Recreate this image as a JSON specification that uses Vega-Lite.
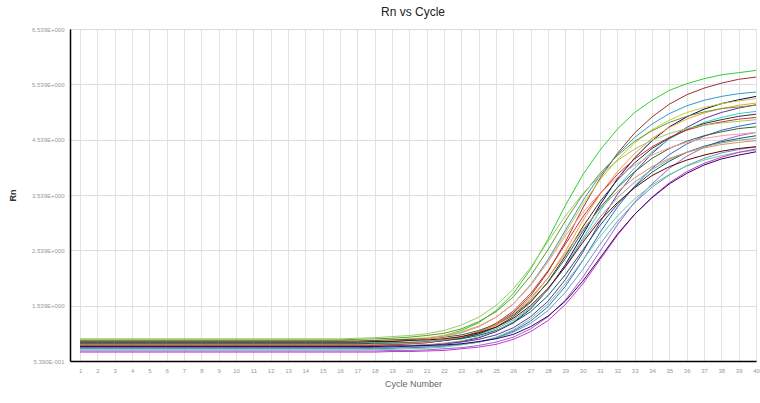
{
"$schema": "https://vega.github.io/schema/vega-lite/v6.json",
"width": 686, "height": 332,
"autosize": {"type": "none"},
"padding": {"left": 70, "top": 29, "right": 4, "bottom": 42},
"background": "white",
"title": {"text": "Rn vs Cycle", "fontSize": 12, "font": "Liberation Sans", "fontWeight": "normal", "color": "#222222", "offset": 7, "anchor": "middle"},
"config": {"view": {"stroke": "#c8c8c8", "strokeWidth": 1}, "font": "Liberation Sans"},
"data": {"values": [
{"cycle":1,"w1":0.85,"w2":0.82,"w3":0.88,"w4":0.78,"w5":0.90,"w6":0.84,"w7":0.80,"w8":0.92,"w9":0.86,"w10":0.83,"w11":0.81,"w12":0.76,"w13":0.94,"w14":0.90,"w15":0.72,"w16":0.87,"w17":0.85,"w18":0.79,"w19":0.83,"w20":0.77,"w21":0.88,"w22":0.74,"w23":0.70,"w24":0.80},
{"cycle":2,"w1":0.85,"w2":0.82,"w3":0.88,"w4":0.78,"w5":0.90,"w6":0.84,"w7":0.80,"w8":0.92,"w9":0.86,"w10":0.83,"w11":0.81,"w12":0.76,"w13":0.94,"w14":0.90,"w15":0.72,"w16":0.87,"w17":0.85,"w18":0.79,"w19":0.83,"w20":0.77,"w21":0.88,"w22":0.74,"w23":0.70,"w24":0.80},
{"cycle":3,"w1":0.85,"w2":0.82,"w3":0.88,"w4":0.78,"w5":0.90,"w6":0.84,"w7":0.80,"w8":0.92,"w9":0.86,"w10":0.83,"w11":0.81,"w12":0.76,"w13":0.94,"w14":0.90,"w15":0.72,"w16":0.87,"w17":0.85,"w18":0.79,"w19":0.83,"w20":0.77,"w21":0.88,"w22":0.74,"w23":0.70,"w24":0.80},
{"cycle":4,"w1":0.85,"w2":0.82,"w3":0.88,"w4":0.78,"w5":0.90,"w6":0.84,"w7":0.80,"w8":0.92,"w9":0.86,"w10":0.83,"w11":0.81,"w12":0.76,"w13":0.94,"w14":0.90,"w15":0.72,"w16":0.87,"w17":0.85,"w18":0.79,"w19":0.83,"w20":0.77,"w21":0.88,"w22":0.74,"w23":0.70,"w24":0.80},
{"cycle":5,"w1":0.85,"w2":0.82,"w3":0.88,"w4":0.78,"w5":0.90,"w6":0.84,"w7":0.80,"w8":0.92,"w9":0.86,"w10":0.83,"w11":0.81,"w12":0.76,"w13":0.94,"w14":0.90,"w15":0.72,"w16":0.87,"w17":0.85,"w18":0.79,"w19":0.83,"w20":0.77,"w21":0.88,"w22":0.74,"w23":0.70,"w24":0.80},
{"cycle":6,"w1":0.85,"w2":0.82,"w3":0.88,"w4":0.78,"w5":0.90,"w6":0.84,"w7":0.80,"w8":0.92,"w9":0.86,"w10":0.83,"w11":0.81,"w12":0.76,"w13":0.94,"w14":0.90,"w15":0.72,"w16":0.87,"w17":0.85,"w18":0.79,"w19":0.83,"w20":0.77,"w21":0.88,"w22":0.74,"w23":0.70,"w24":0.80},
{"cycle":7,"w1":0.85,"w2":0.82,"w3":0.88,"w4":0.78,"w5":0.90,"w6":0.84,"w7":0.80,"w8":0.92,"w9":0.86,"w10":0.83,"w11":0.81,"w12":0.76,"w13":0.94,"w14":0.90,"w15":0.72,"w16":0.87,"w17":0.85,"w18":0.79,"w19":0.83,"w20":0.77,"w21":0.88,"w22":0.74,"w23":0.70,"w24":0.80},
{"cycle":8,"w1":0.85,"w2":0.82,"w3":0.88,"w4":0.78,"w5":0.90,"w6":0.84,"w7":0.80,"w8":0.92,"w9":0.86,"w10":0.83,"w11":0.81,"w12":0.76,"w13":0.94,"w14":0.90,"w15":0.72,"w16":0.87,"w17":0.85,"w18":0.79,"w19":0.83,"w20":0.77,"w21":0.88,"w22":0.74,"w23":0.70,"w24":0.80},
{"cycle":9,"w1":0.85,"w2":0.82,"w3":0.88,"w4":0.78,"w5":0.90,"w6":0.84,"w7":0.80,"w8":0.92,"w9":0.86,"w10":0.83,"w11":0.81,"w12":0.76,"w13":0.94,"w14":0.90,"w15":0.72,"w16":0.87,"w17":0.85,"w18":0.79,"w19":0.83,"w20":0.77,"w21":0.88,"w22":0.74,"w23":0.70,"w24":0.80},
{"cycle":10,"w1":0.85,"w2":0.82,"w3":0.88,"w4":0.78,"w5":0.90,"w6":0.84,"w7":0.80,"w8":0.92,"w9":0.86,"w10":0.83,"w11":0.81,"w12":0.76,"w13":0.94,"w14":0.90,"w15":0.72,"w16":0.87,"w17":0.85,"w18":0.79,"w19":0.83,"w20":0.77,"w21":0.88,"w22":0.74,"w23":0.70,"w24":0.80},
{"cycle":11,"w1":0.85,"w2":0.82,"w3":0.88,"w4":0.78,"w5":0.90,"w6":0.84,"w7":0.80,"w8":0.92,"w9":0.86,"w10":0.83,"w11":0.81,"w12":0.76,"w13":0.94,"w14":0.90,"w15":0.72,"w16":0.87,"w17":0.85,"w18":0.79,"w19":0.83,"w20":0.77,"w21":0.88,"w22":0.74,"w23":0.70,"w24":0.80},
{"cycle":12,"w1":0.85,"w2":0.82,"w3":0.88,"w4":0.78,"w5":0.90,"w6":0.84,"w7":0.80,"w8":0.92,"w9":0.86,"w10":0.83,"w11":0.81,"w12":0.76,"w13":0.94,"w14":0.90,"w15":0.72,"w16":0.87,"w17":0.85,"w18":0.79,"w19":0.83,"w20":0.77,"w21":0.88,"w22":0.74,"w23":0.70,"w24":0.80},
{"cycle":13,"w1":0.85,"w2":0.82,"w3":0.88,"w4":0.78,"w5":0.90,"w6":0.84,"w7":0.80,"w8":0.92,"w9":0.86,"w10":0.83,"w11":0.81,"w12":0.76,"w13":0.94,"w14":0.90,"w15":0.72,"w16":0.87,"w17":0.85,"w18":0.79,"w19":0.83,"w20":0.77,"w21":0.88,"w22":0.74,"w23":0.70,"w24":0.80},
{"cycle":14,"w1":0.85,"w2":0.82,"w3":0.88,"w4":0.78,"w5":0.90,"w6":0.84,"w7":0.80,"w8":0.92,"w9":0.86,"w10":0.83,"w11":0.81,"w12":0.76,"w13":0.94,"w14":0.90,"w15":0.72,"w16":0.87,"w17":0.85,"w18":0.79,"w19":0.83,"w20":0.77,"w21":0.88,"w22":0.74,"w23":0.70,"w24":0.80},
{"cycle":15,"w1":0.85,"w2":0.82,"w3":0.88,"w4":0.78,"w5":0.90,"w6":0.84,"w7":0.80,"w8":0.92,"w9":0.86,"w10":0.83,"w11":0.81,"w12":0.76,"w13":0.94,"w14":0.90,"w15":0.72,"w16":0.87,"w17":0.85,"w18":0.79,"w19":0.83,"w20":0.77,"w21":0.88,"w22":0.74,"w23":0.70,"w24":0.80},
{"cycle":16,"w1":0.85,"w2":0.82,"w3":0.88,"w4":0.78,"w5":0.90,"w6":0.84,"w7":0.80,"w8":0.92,"w9":0.86,"w10":0.83,"w11":0.81,"w12":0.76,"w13":0.94,"w14":0.90,"w15":0.72,"w16":0.87,"w17":0.85,"w18":0.79,"w19":0.83,"w20":0.77,"w21":0.88,"w22":0.74,"w23":0.70,"w24":0.80},
{"cycle":17,"w1":0.86,"w2":0.82,"w3":0.88,"w4":0.78,"w5":0.90,"w6":0.84,"w7":0.80,"w8":0.93,"w9":0.86,"w10":0.83,"w11":0.81,"w12":0.76,"w13":0.95,"w14":0.90,"w15":0.72,"w16":0.88,"w17":0.85,"w18":0.79,"w19":0.83,"w20":0.77,"w21":0.88,"w22":0.74,"w23":0.70,"w24":0.80},
{"cycle":18,"w1":0.87,"w2":0.83,"w3":0.89,"w4":0.79,"w5":0.91,"w6":0.85,"w7":0.80,"w8":0.94,"w9":0.87,"w10":0.84,"w11":0.82,"w12":0.76,"w13":0.96,"w14":0.91,"w15":0.72,"w16":0.89,"w17":0.86,"w18":0.80,"w19":0.84,"w20":0.77,"w21":0.89,"w22":0.75,"w23":0.70,"w24":0.80},
{"cycle":19,"w1":0.89,"w2":0.84,"w3":0.91,"w4":0.79,"w5":0.92,"w6":0.86,"w7":0.81,"w8":0.95,"w9":0.87,"w10":0.85,"w11":0.83,"w12":0.77,"w13":0.98,"w14":0.92,"w15":0.73,"w16":0.90,"w17":0.86,"w18":0.81,"w19":0.85,"w20":0.78,"w21":0.89,"w22":0.75,"w23":0.71,"w24":0.81},
{"cycle":20,"w1":0.91,"w2":0.85,"w3":0.92,"w4":0.81,"w5":0.94,"w6":0.87,"w7":0.82,"w8":0.97,"w9":0.88,"w10":0.86,"w11":0.85,"w12":0.78,"w13":1.00,"w14":0.93,"w15":0.73,"w16":0.91,"w17":0.87,"w18":0.82,"w19":0.86,"w20":0.79,"w21":0.91,"w22":0.76,"w23":0.71,"w24":0.81},
{"cycle":21,"w1":0.94,"w2":0.87,"w3":0.95,"w4":0.82,"w5":0.96,"w6":0.89,"w7":0.83,"w8":1.00,"w9":0.90,"w10":0.88,"w11":0.87,"w12":0.79,"w13":1.03,"w14":0.94,"w15":0.74,"w16":0.94,"w17":0.88,"w18":0.83,"w19":0.88,"w20":0.80,"w21":0.92,"w22":0.77,"w23":0.72,"w24":0.82},
{"cycle":22,"w1":1.00,"w2":0.91,"w3":0.99,"w4":0.85,"w5":1.00,"w6":0.92,"w7":0.85,"w8":1.04,"w9":0.92,"w10":0.91,"w11":0.91,"w12":0.81,"w13":1.09,"w14":0.97,"w15":0.76,"w16":0.98,"w17":0.91,"w18":0.86,"w19":0.92,"w20":0.81,"w21":0.94,"w22":0.79,"w23":0.73,"w24":0.83},
{"cycle":23,"w1":1.09,"w2":0.96,"w3":1.05,"w4":0.89,"w5":1.07,"w6":0.97,"w7":0.88,"w8":1.12,"w9":0.96,"w10":0.95,"w11":0.97,"w12":0.84,"w13":1.19,"w14":1.01,"w15":0.78,"w16":1.05,"w17":0.94,"w18":0.90,"w19":0.97,"w20":0.84,"w21":0.98,"w22":0.83,"w23":0.76,"w24":0.85},
{"cycle":24,"w1":1.23,"w2":1.05,"w3":1.16,"w4":0.96,"w5":1.17,"w6":1.05,"w7":0.93,"w8":1.25,"w9":1.02,"w10":1.03,"w11":1.07,"w12":0.88,"w13":1.33,"w14":1.09,"w15":0.82,"w16":1.16,"w17":1.00,"w18":0.97,"w19":1.06,"w20":0.88,"w21":1.05,"w22":0.88,"w23":0.79,"w24":0.89},
{"cycle":25,"w1":1.45,"w2":1.20,"w3":1.33,"w4":1.07,"w5":1.33,"w6":1.18,"w7":1.01,"w8":1.43,"w9":1.12,"w10":1.15,"w11":1.22,"w12":0.96,"w13":1.54,"w14":1.20,"w15":0.88,"w16":1.33,"w17":1.09,"w18":1.08,"w19":1.20,"w20":0.95,"w21":1.15,"w22":0.97,"w23":0.84,"w24":0.94},
{"cycle":26,"w1":1.76,"w2":1.41,"w3":1.57,"w4":1.23,"w5":1.57,"w6":1.37,"w7":1.14,"w8":1.70,"w9":1.28,"w10":1.34,"w11":1.44,"w12":1.08,"w13":1.84,"w14":1.37,"w15":0.97,"w16":1.57,"w17":1.23,"w18":1.25,"w19":1.39,"w20":1.06,"w21":1.31,"w22":1.10,"w23":0.93,"w24":1.02},
{"cycle":27,"w1":2.20,"w2":1.72,"w3":1.92,"w4":1.48,"w5":1.90,"w6":1.65,"w7":1.34,"w8":2.08,"w9":1.51,"w10":1.60,"w11":1.76,"w12":1.26,"w13":2.23,"w14":1.62,"w15":1.12,"w16":1.91,"w17":1.43,"w18":1.49,"w19":1.68,"w20":1.22,"w21":1.54,"w22":1.30,"w23":1.07,"w24":1.16},
{"cycle":28,"w1":2.74,"w2":2.15,"w3":2.37,"w4":1.83,"w5":2.34,"w6":2.04,"w7":1.62,"w8":2.55,"w9":1.83,"w10":1.97,"w11":2.17,"w12":1.52,"w13":2.70,"w14":1.96,"w15":1.34,"w16":2.33,"w17":1.72,"w18":1.83,"w19":2.04,"w20":1.45,"w21":1.85,"w22":1.57,"w23":1.27,"w24":1.35},
{"cycle":29,"w1":3.35,"w2":2.69,"w3":2.90,"w4":2.28,"w5":2.85,"w6":2.52,"w7":2.01,"w8":3.07,"w9":2.25,"w10":2.44,"w11":2.65,"w12":1.89,"w13":3.16,"w14":2.39,"w15":1.64,"w16":2.80,"w17":2.10,"w18":2.25,"w19":2.48,"w20":1.78,"w21":2.24,"w22":1.94,"w23":1.56,"w24":1.62},
{"cycle":30,"w1":3.90,"w2":3.30,"w3":3.43,"w4":2.82,"w5":3.37,"w6":3.07,"w7":2.50,"w8":3.54,"w9":2.75,"w10":2.96,"w11":3.14,"w12":2.35,"w13":3.56,"w14":2.88,"w15":2.05,"w16":3.22,"w17":2.54,"w18":2.72,"w19":2.91,"w20":2.19,"w21":2.68,"w22":2.36,"w23":1.93,"w24":1.98},
{"cycle":31,"w1":4.35,"w2":3.84,"w3":3.89,"w4":3.36,"w5":3.81,"w6":3.55,"w7":3.05,"w8":3.93,"w9":3.25,"w10":3.42,"w11":3.56,"w12":2.86,"w13":3.89,"w14":3.31,"w15":2.52,"w16":3.57,"w17":2.99,"w18":3.14,"w19":3.29,"w20":2.65,"w21":3.08,"w22":2.79,"w23":2.37,"w24":2.40},
{"cycle":32,"w1":4.73,"w2":4.29,"w3":4.27,"w4":3.83,"w5":4.18,"w6":3.96,"w7":3.55,"w8":4.25,"w9":3.68,"w10":3.81,"w11":3.91,"w12":3.32,"w13":4.16,"w14":3.67,"w15":3.00,"w16":3.85,"w17":3.37,"w18":3.49,"w19":3.60,"w20":3.06,"w21":3.40,"w22":3.16,"w23":2.81,"w24":2.83},
{"cycle":33,"w1":5.03,"w2":4.66,"w3":4.58,"w4":4.21,"w5":4.48,"w6":4.29,"w7":3.95,"w8":4.51,"w9":4.03,"w10":4.12,"w11":4.19,"w12":3.70,"w13":4.37,"w14":3.96,"w15":3.41,"w16":4.08,"w17":3.69,"w18":3.77,"w19":3.85,"w20":3.40,"w21":3.67,"w22":3.47,"w23":3.19,"w24":3.19},
{"cycle":34,"w1":5.25,"w2":4.95,"w3":4.82,"w4":4.52,"w5":4.72,"w6":4.56,"w7":4.29,"w8":4.70,"w9":4.32,"w10":4.38,"w11":4.41,"w12":4.02,"w13":4.53,"w14":4.20,"w15":3.74,"w16":4.26,"w17":3.95,"w18":4.00,"w19":4.05,"w20":3.68,"w21":3.89,"w22":3.72,"w23":3.50,"w24":3.49},
{"cycle":35,"w1":5.43,"w2":5.18,"w3":5.01,"w4":4.77,"w5":4.89,"w6":4.76,"w7":4.56,"w8":4.85,"w9":4.55,"w10":4.57,"w11":4.58,"w12":4.27,"w13":4.65,"w14":4.38,"w15":4.02,"w16":4.39,"w17":4.15,"w18":4.18,"w19":4.20,"w20":3.90,"w21":4.05,"w22":3.91,"w23":3.76,"w24":3.74},
{"cycle":36,"w1":5.55,"w2":5.35,"w3":5.15,"w4":4.95,"w5":5.03,"w6":4.91,"w7":4.76,"w8":4.96,"w9":4.72,"w10":4.72,"w11":4.71,"w12":4.46,"w13":4.74,"w14":4.51,"w15":4.24,"w16":4.49,"w17":4.31,"w18":4.31,"w19":4.31,"w20":4.07,"w21":4.17,"w22":4.06,"w23":3.96,"w24":3.93},
{"cycle":37,"w1":5.64,"w2":5.47,"w3":5.25,"w4":5.09,"w5":5.12,"w6":5.02,"w7":4.92,"w8":5.04,"w9":4.85,"w10":4.83,"w11":4.80,"w12":4.60,"w13":4.80,"w14":4.61,"w15":4.40,"w16":4.56,"w17":4.42,"w18":4.41,"w19":4.39,"w20":4.20,"w21":4.26,"w22":4.17,"w23":4.11,"w24":4.08},
{"cycle":38,"w1":5.71,"w2":5.56,"w3":5.32,"w4":5.19,"w5":5.19,"w6":5.10,"w7":5.03,"w8":5.10,"w9":4.94,"w10":4.90,"w11":4.86,"w12":4.71,"w13":4.84,"w14":4.68,"w15":4.52,"w16":4.61,"w17":4.50,"w18":4.48,"w19":4.45,"w20":4.30,"w21":4.33,"w22":4.25,"w23":4.22,"w24":4.19},
{"cycle":39,"w1":5.75,"w2":5.63,"w3":5.37,"w4":5.26,"w5":5.24,"w6":5.16,"w7":5.11,"w8":5.13,"w9":5.01,"w10":4.96,"w11":4.91,"w12":4.78,"w13":4.87,"w14":4.74,"w15":4.61,"w16":4.64,"w17":4.56,"w18":4.53,"w19":4.49,"w20":4.36,"w21":4.38,"w22":4.31,"w23":4.31,"w24":4.26},
{"cycle":40,"w1":5.79,"w2":5.67,"w3":5.40,"w4":5.32,"w5":5.28,"w6":5.20,"w7":5.17,"w8":5.16,"w9":5.05,"w10":5.00,"w11":4.94,"w12":4.84,"w13":4.90,"w14":4.77,"w15":4.67,"w16":4.67,"w17":4.61,"w18":4.56,"w19":4.52,"w20":4.41,"w21":4.41,"w22":4.35,"w23":4.37,"w24":4.32}
]},
"transform": [{"fold": ["w1","w2","w3","w4","w5","w6","w7","w8","w9","w10","w11","w12","w13","w14","w15","w16","w17","w18","w19","w20","w21","w22","w23","w24"], "as": ["well", "rn"]}],
"mark": {"type": "line", "strokeWidth": 1, "clip": true},
"encoding": {
"x": {"field": "cycle", "type": "quantitative",
 "scale": {"domain": [0.42, 40], "nice": false, "zero": false},
 "axis": {"values": [1,2,3,4,5,6,7,8,9,10,11,12,13,14,15,16,17,18,19,20,21,22,23,24,25,26,27,28,29,30,31,32,33,34,35,36,37,38,39,40],
  "title": "Cycle Number", "titleFontSize": 9, "titleFontWeight": "normal", "titleColor": "#666666", "titlePadding": 6,
  "labelFontSize": 6, "labelColor": "#999999", "labelPadding": 6, "labelOverlap": false, "labelFlush": false,
  "ticks": false, "grid": true, "gridColor": "#e2e2e2", "domainColor": "#000000", "domainWidth": 1.5}},
"y": {"field": "rn", "type": "quantitative",
 "scale": {"domain": [0.539, 6.539], "nice": false, "zero": false},
 "axis": {"values": [0.539, 1.539, 2.539, 3.539, 4.539, 5.539, 6.539],
  "labelExpr": "datum.value < 1 ? format(datum.value * 10, '.3f') + 'E-001' : format(datum.value, '.3f') + 'E+000'",
  "title": "Rn", "titleFontSize": 9, "titleFontWeight": "bold", "titleColor": "#333333", "titlePadding": 14,
  "labelFontSize": 6, "labelColor": "#999999", "labelPadding": 6, "labelOverlap": false,
  "ticks": false, "grid": true, "gridColor": "#dcdcdc", "domainColor": "#000000", "domainWidth": 1.5}},
"color": {"field": "well", "type": "nominal",
 "scale": {"domain": ["w1","w2","w3","w4","w5","w6","w7","w8","w9","w10","w11","w12","w13","w14","w15","w16","w17","w18","w19","w20","w21","w22","w23","w24"],
  "range": ["#33cc33","#993333","#3399cc","#000066","#cccc33","#ff9933","#663399","#669933","#33cccc","#333333","#cc3333","#3366cc","#99cc66","#336633","#9966cc","#ff9999","#006666","#999999","#cc9966","#6699cc","#660000","#66cc99","#cc33cc","#330066"]},
 "legend": null}
}
}
